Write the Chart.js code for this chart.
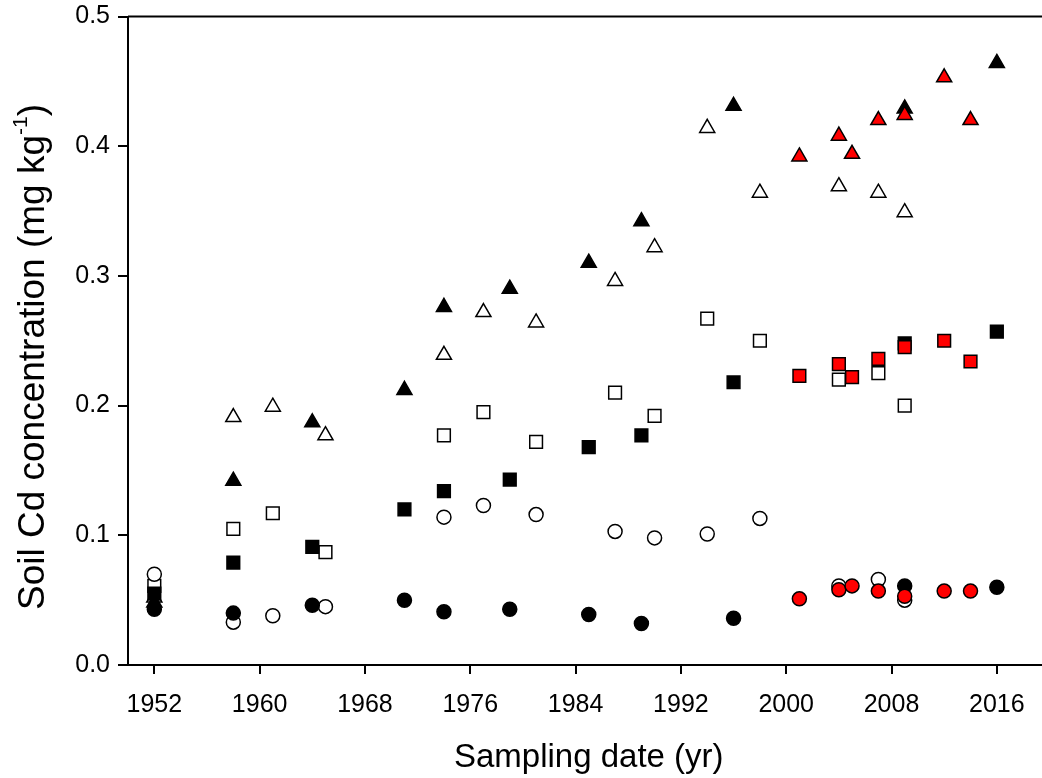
<!DOCTYPE html>
<html lang="en">
<head>
    <meta charset="UTF-8">
    <title>Soil Cd concentration</title>
    <script src="https://cdn.jsdelivr.net/npm/chart.js"></script>
    <style>
        html, body { margin: 0; padding: 0; background: #fff; overflow: hidden; }
        #wrap { width: 1060px; height: 778px; }
    </style>
</head>
<body>
    <div id="wrap"><canvas id="cdChart" width="1060" height="778"></canvas></div>

    <script>
        // x axis tick labels
        const xTicks = [1952, 1960, 1968, 1976, 1984, 1992, 2000, 2008, 2016];

        // filled black symbols
        const yearsFilled = [1952, 1958, 1964, 1971, 1974, 1979, 1985, 1989, 1996, 2009, 2016];
        const filledCircle = [0.043, 0.040, 0.046, 0.050, 0.041, 0.043, 0.039, 0.032, 0.036, 0.061, 0.060];
        const filledSquare = [0.055, 0.079, 0.091, 0.120, 0.134, 0.143, 0.168, 0.177, 0.218, 0.248, 0.257];
        const filledTriangle = [0.048, 0.142, 0.187, 0.212, 0.276, 0.290, 0.310, 0.342, 0.431, 0.429, 0.464];

        // open symbols
        const yearsOpen = [1952, 1958, 1961, 1965, 1974, 1977, 1981, 1987, 1990, 1994, 1998, 2004, 2007, 2009];
        const openCircle = [0.070, 0.033, 0.038, 0.045, 0.114, 0.123, 0.116, 0.103, 0.098, 0.101, 0.113, 0.061, 0.066, 0.050];
        const openSquare = [0.061, 0.105, 0.117, 0.087, 0.177, 0.195, 0.172, 0.210, 0.192, 0.267, 0.250, 0.220, 0.225, 0.200];
        const openTriangle = [0.052, 0.191, 0.199, 0.177, 0.239, 0.272, 0.264, 0.296, 0.322, 0.414, 0.364, 0.369, 0.364, 0.349];

        // red symbols
        const yearsRed = [2001, 2004, 2005, 2007, 2009, 2012, 2014];
        const redCircle = [0.051, 0.058, 0.061, 0.057, 0.053, 0.057, 0.057];
        const redSquare = [0.223, 0.232, 0.222, 0.236, 0.245, 0.250, 0.234];
        const redTriangle = [0.392, 0.408, 0.394, 0.420, 0.424, 0.453, 0.420];

        const yTitle = ['Soil Cd concentration (mg kg', '-1', ')'];
        const family = "'Liberation Sans', Arial, sans-serif";

        function pts(xs, ys) {
            return xs.map((x, i) => ({ x: x, y: ys[i] }));
        }

        function series(label, xs, ys, style, fill) {
            const radius = style === 'circle' ? 7 : (style === 'rect' ? 9 : 8.7);
            return {
                label: label,
                data: pts(xs, ys),
                pointStyle: style,
                pointRadius: radius,
                pointBackgroundColor: fill,
                pointBorderColor: '#000',
                pointBorderWidth: 1.5,
                showLine: false
            };
        }

        // draws the top / right frame and the rotated y title with superscript
        const frameAndTitle = {
            id: 'frameAndTitle',
            afterDraw(chart) {
                const ctx = chart.ctx;
                const a = chart.chartArea;
                ctx.save();
                ctx.strokeStyle = '#000';
                ctx.lineWidth = 2;
                ctx.beginPath();
                ctx.moveTo(a.left, a.top);
                ctx.lineTo(a.right, a.top);
                ctx.lineTo(a.right, a.bottom);
                ctx.stroke();

                const big = '37px ' + family;
                const small = '21px ' + family;
                ctx.font = big;
                const w1 = ctx.measureText(yTitle[0]).width;
                const w3 = ctx.measureText(yTitle[2]).width;
                ctx.font = small;
                const w2 = ctx.measureText(yTitle[1]).width;
                ctx.translate(44, 357);
                ctx.rotate(-Math.PI / 2);
                ctx.fillStyle = '#000';
                ctx.textBaseline = 'alphabetic';
                let x = -(w1 + w2 + w3) / 2;
                ctx.font = big;
                ctx.fillText(yTitle[0], x, 0);
                x += w1;
                ctx.font = small;
                ctx.fillText(yTitle[1], x, -17);
                x += w2;
                ctx.font = big;
                ctx.fillText(yTitle[2], x, 0);
                ctx.restore();
            }
        };

        const ctx = document.getElementById('cdChart').getContext('2d');
        new Chart(ctx, {
            type: 'scatter',
            data: {
                datasets: [
                    series('Red circle', yearsRed, redCircle, 'circle', '#ff0000'),
                    series('Red square', yearsRed, redSquare, 'rect', '#ff0000'),
                    series('Red triangle', yearsRed, redTriangle, 'triangle', '#ff0000'),
                    series('Filled circle', yearsFilled, filledCircle, 'circle', '#000'),
                    series('Filled square', yearsFilled, filledSquare, 'rect', '#000'),
                    series('Filled triangle', yearsFilled, filledTriangle, 'triangle', '#000'),
                    series('Open circle', yearsOpen, openCircle, 'circle', '#fff'),
                    series('Open square', yearsOpen, openSquare, 'rect', '#fff'),
                    series('Open triangle', yearsOpen, openTriangle, 'triangle', '#fff')
                ]
            },
            options: {
                responsive: false,
                devicePixelRatio: 1,
                animation: false,
                layout: { padding: { top: 16.5, right: 9.4, bottom: 0, left: 0 } },
                plugins: {
                    legend: { display: false },
                    tooltip: { enabled: false }
                },
                scales: {
                    x: {
                        type: 'linear',
                        min: 1950,
                        max: 2020,
                        afterBuildTicks: (scale) => { scale.ticks = xTicks.map(v => ({ value: v })); },
                        afterFit: (scale) => {
                            scale.height = 113;
                            scale.paddingLeft = 0;
                            scale.paddingRight = 0;
                        },
                        ticks: {
                            color: '#000',
                            font: { family: family, size: 25 },
                            padding: 16,
                            maxRotation: 0,
                            callback: (v) => String(v)
                        },
                        grid: { drawOnChartArea: false, drawTicks: true, tickLength: 9, color: '#000', lineWidth: 2 },
                        border: { display: true, color: '#000', width: 2 },
                        title: {
                            display: true,
                            text: 'Sampling date (yr)',
                            color: '#000',
                            font: { family: family, size: 33 },
                            padding: { top: 0, bottom: 0 }
                        }
                    },
                    y: {
                        type: 'linear',
                        min: 0,
                        max: 0.5,
                        afterFit: (scale) => {
                            scale.width = 128;
                            scale.paddingTop = 0;
                            scale.paddingBottom = 0;
                        },
                        ticks: {
                            stepSize: 0.1,
                            color: '#000',
                            font: { family: family, size: 25 },
                            padding: 8,
                            callback: (v) => v.toFixed(1)
                        },
                        grid: { drawOnChartArea: false, drawTicks: true, tickLength: 10, color: '#000', lineWidth: 2 },
                        border: { display: true, color: '#000', width: 2 }
                    }
                }
            },
            plugins: [frameAndTitle]
        });
    </script>
</body>
</html>
